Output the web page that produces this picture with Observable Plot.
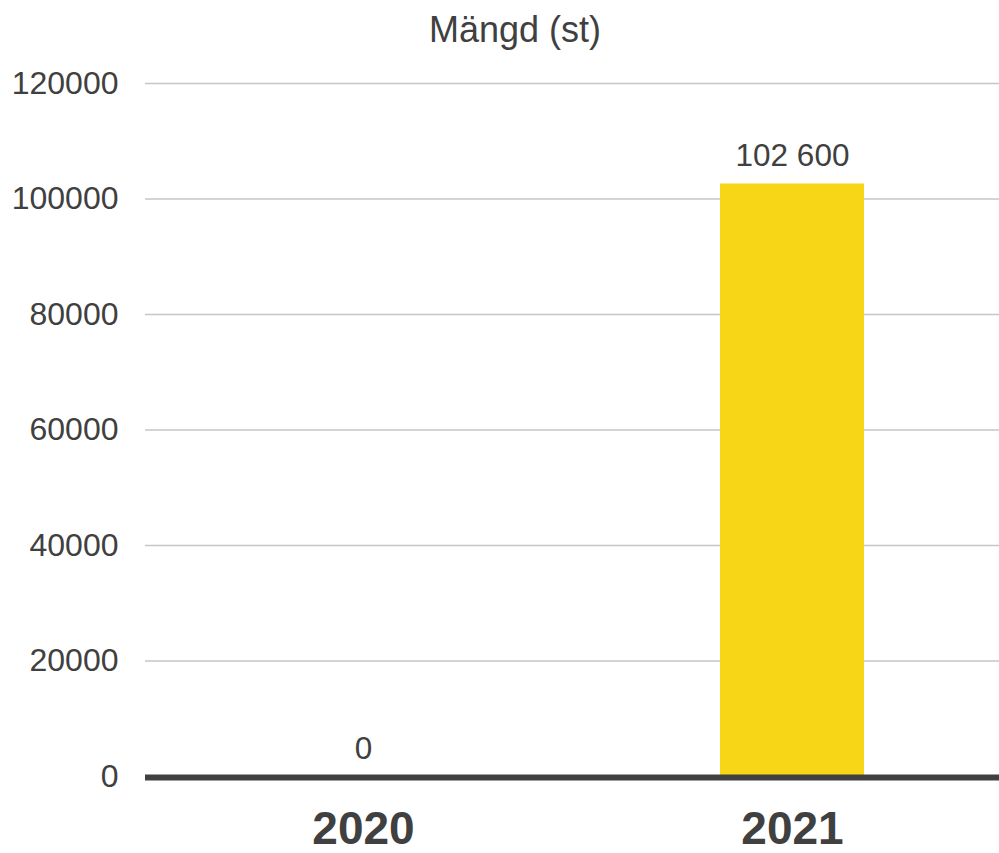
<!DOCTYPE html>
<html>
<head>
<meta charset="utf-8">
<script src="https://cdn.jsdelivr.net/npm/d3@7"></script>
<script src="https://cdn.jsdelivr.net/npm/@observablehq/plot@0.6"></script>
<style>
  html, body { margin: 0; padding: 0; background: #fff; }
  #wrap { width: 999px; font-family: "Liberation Sans", Arial, sans-serif; }
  #title { height: 60px; box-sizing: border-box; padding-top: 12px; padding-left: 31px;
           text-align: center; font-size: 36px; line-height: 1; color: #404040; }
</style>
</head>
<body>
<div id="wrap">
  <div id="title">Mängd (st)</div>
  <div id="chart"></div>
</div>
<script>
const title = "Mängd (st)";
const years = ["2020", "2021"];
const amounts = [0, 102600];
const yTicks = [0, 20000, 40000, 60000, 80000, 100000, 120000];

const data = years.map((y, i) => ({ year: y, value: amounts[i] }));
const sv = d3.formatLocale({ decimal: ",", thousands: " ", grouping: [3], currency: ["", " kr"] }).format(",d");

document.getElementById("title").textContent = title;

const chart = Plot.plot({
  width: 999,
  height: 793,
  marginTop: 23,
  marginBottom: 77,
  marginLeft: 145,
  marginRight: 0,
  style: { fontFamily: "Liberation Sans, Arial, sans-serif", color: "#404040", background: "#fff" },
  x: { domain: years, paddingInner: 0.665, paddingOuter: 0.3256, align: 0.52, label: null },
  y: { domain: [0, 120000], label: null },
  marks: [
    Plot.ruleY(yTicks.filter(t => t > 0), { stroke: "#c6c6c6", strokeWidth: 1.5 }),
    Plot.barY(data, { x: "year", y: "value", fill: "#f7d617" }),
    Plot.ruleY([0], { stroke: "#404040", strokeWidth: 6, dy: 1 }),
    Plot.text(data, { x: "year", y: "value", text: d => sv(d.value), lineAnchor: "bottom", dy: -18, fontSize: 31.5, fill: "#404040" }),
    Plot.axisY({ ticks: yTicks, tickFormat: d => String(d), tickSize: 0, tickPadding: 27, fontSize: 32, color: "#404040", label: null }),
    Plot.axisX({ tickSize: 0, tickPadding: 35, fontSize: 46, fontWeight: "bold", color: "#404040", label: null })
  ]
});
document.getElementById("chart").appendChild(chart);
</script>
</body>
</html>
